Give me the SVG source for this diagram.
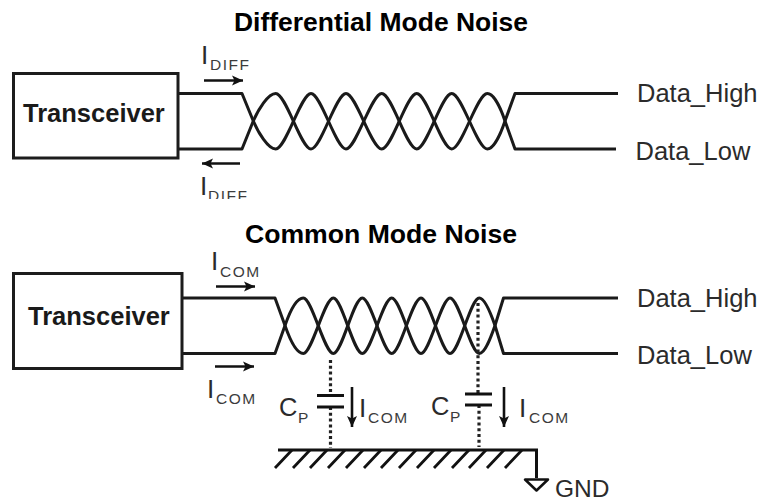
<svg xmlns="http://www.w3.org/2000/svg" width="759" height="502" viewBox="0 0 759 502">
<defs>
<style>
text{font-family:"Liberation Sans",Arial,sans-serif;fill:#2b2b2b}
.title{font-size:26px;font-weight:bold;fill:#000}
.box{fill:#fff;stroke:#1c1c1c;stroke-width:3}
.boxt{font-size:25.5px;font-weight:bold;fill:#1a1a1a}
.lbl{font-size:25.5px}
.i{font-size:26px}
.sub{font-size:15.5px;letter-spacing:1.5px;fill:#3c3c3c}
.wire{fill:none;stroke:#1a1a1a;stroke-width:3;stroke-linejoin:round}
.arr{fill:none;stroke:#111;stroke-width:2.6;marker-end:url(#ah)}
.dot{fill:none;stroke:#222;stroke-width:3.2;stroke-dasharray:3 2.8}
.plate{fill:none;stroke:#111;stroke-width:3}
.hatch{fill:none;stroke:#111;stroke-width:2.8}
</style>
<marker id="ah" markerUnits="userSpaceOnUse" markerWidth="12" markerHeight="11" refX="11" refY="5.5" orient="auto"><path d="M0,0.5L11,5.5L0,10.5L2.5,5.5Z" fill="#111"/></marker>
<clipPath id="cut"><rect x="0" y="0" width="759" height="199"/></clipPath>
</defs>
<rect width="759" height="502" fill="#fff"/>
<text class="title" x="234" y="31" textLength="294" lengthAdjust="spacingAndGlyphs">Differential Mode Noise</text>
<text class="title" x="245" y="243" textLength="272" lengthAdjust="spacingAndGlyphs">Common Mode Noise</text>
<g id="connectors">
<path class="wire" d="M178,93.5H242L253.3,121C258,132 268,149 275.7,149C286,149 301,93.5 311,93.5C321,93.5 336,149 346,149C356,149 371.5,93.5 381.7,93.5C392,93.5 406.5,149 416.7,149C427,149 441.5,93.5 451.7,93.5C462,93.5 477,149 487.3,149C494,149 501,133 505,121L515,93.5H618"/>
<path class="wire" d="M178,149H242L253.3,121C258,110 268,93.5 275.7,93.5C286,93.5 301,149 311,149C321,149 336,93.5 346,93.5C356,93.5 371.5,149 381.7,149C392,149 406.5,93.5 416.7,93.5C427,93.5 441.5,149 451.7,149C462,149 477,93.5 487.3,93.5C494,93.5 501,109 505,121L515,149H616"/>
<path class="wire" d="M182,298H275L285,325.5C289,337 296,353.5 303.3,353.5C312,353.5 324.5,298 333.3,298C342,298 353.5,353.5 362.3,353.5C371,353.5 383,298 391.7,298C400.5,298 412.2,353.5 421,353.5C429.5,353.5 441.5,298 450,298C459,298 470.5,353.5 479.3,353.5C485,353.5 491,337 495,325.5L503.5,298H618"/>
<path class="wire" d="M182,353.5H275L285,325.5C289,314 296,298 303.3,298C312,298 324.5,353.5 333.3,353.5C342,353.5 353.5,298 362.3,298C371,298 383,353.5 391.7,353.5C400.5,353.5 412.2,298 421,298C429.5,298 441.5,353.5 450,353.5C459,353.5 470.5,298 479.3,298C485,298 491,314 495,325.5L503.5,353.5H618"/>
<path class="arr" d="M204,80.5H243"/>
<path class="arr" d="M240,163.5H202"/>
<path class="arr" d="M216,286.5H255"/>
<path class="arr" d="M215,366.5H254"/>
<path class="arr" d="M352,387V427"/>
<path class="arr" d="M504,387V427"/>
<path class="dot" d="M330.5,360V395M330.5,407V448"/>
<path class="dot" d="M478,303V394M479,405V447"/>
</g>
<g id="transceiver-top">
<rect class="box" x="13.5" y="73.5" width="164.5" height="84.5"/>
<text class="boxt" x="23" y="122">Transceiver</text>
</g>
<g id="transceiver-bottom">
<rect class="box" x="13.5" y="273.5" width="168.5" height="95"/>
<text class="boxt" x="28" y="325">Transceiver</text>
</g>
<g id="labels-top">
<text class="i" x="201" y="64">I</text><text class="sub" x="210" y="70">DIFF</text>
<g clip-path="url(#cut)"><text class="i" x="200" y="195">I</text><text class="sub" x="208" y="201">DIFF</text></g>
<text class="lbl" x="637" y="102">Data_High</text>
<text class="lbl" x="635.5" y="160">Data_Low</text>
</g>
<g id="labels-bottom">
<text class="i" x="211" y="270">I</text><text class="sub" x="220" y="277">COM</text>
<text class="i" x="207" y="398">I</text><text class="sub" x="216" y="404">COM</text>
<text class="lbl" x="637" y="307">Data_High</text>
<text class="lbl" x="637" y="364">Data_Low</text>
</g>
<g id="capacitor-1">
<path class="plate" d="M317,395.5H344M317,407H344"/>
<text class="lbl" x="279" y="416">C</text><text class="sub" x="298" y="423">P</text>
<text class="i" x="359" y="417">I</text><text class="sub" x="368" y="423">COM</text>
</g>
<g id="capacitor-2">
<path class="plate" d="M465,394H492M465,405H492"/>
<text class="lbl" x="431" y="415">C</text><text class="sub" x="450" y="422">P</text>
<text class="i" x="519" y="417">I</text><text class="sub" x="529" y="423">COM</text>
</g>
<g id="ground">
<path class="plate" d="M278,450H536.5V478"/>
<path class="hatch" d="M292,450L275,468M310,450L293,468M327,450L310,468M345,450L328,468M363,450L346,468M381,450L364,468M398,450L381,468M416,450L399,468M434,450L417,468M451,450L434,468M469,450L452,468M486,450L469,468M504,450L487,468M522,450L505,468"/>
<path d="M525,479.5H548L536.5,490.5Z" fill="#fff" stroke="#111" stroke-width="2.5" stroke-linejoin="round"/>
<text x="555" y="496.5" style="font-size:24.5px">GND</text>
</g>
</svg>
